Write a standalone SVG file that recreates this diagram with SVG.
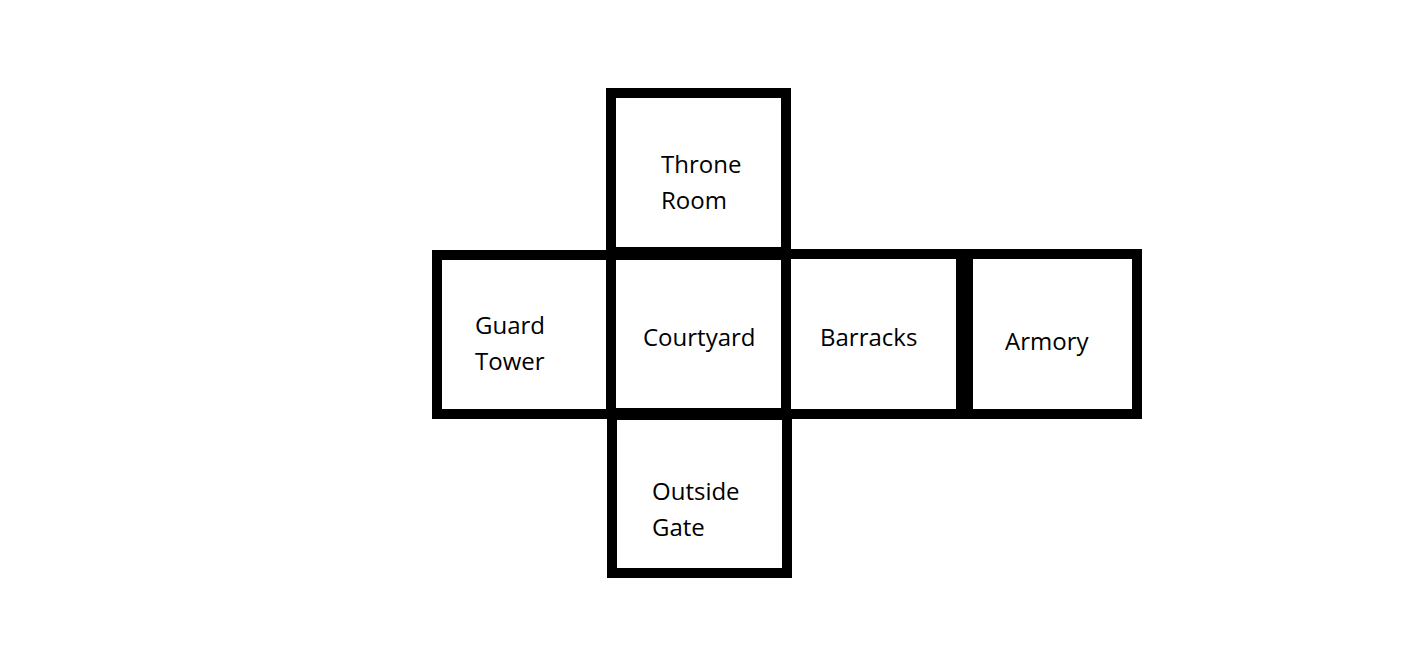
<svg xmlns="http://www.w3.org/2000/svg" width="1416" height="664" viewBox="0 0 1416 664">
<style>
.room{fill:none;stroke:#000;stroke-width:10}
.lbl{font-family:"Open Sans","Noto Sans","Liberation Sans",sans-serif;font-size:24px;fill:#000}
</style>
<rect width="1416" height="664" fill="#fff"/>
<g id="connectors"></g>
<g id="throne-room">
<rect class="room" x="611" y="93" width="175" height="159"/>
<text class="lbl" x="661" y="173">Throne</text>
<text class="lbl" x="661" y="209">Room</text>
</g>
<g id="guard-tower">
<rect class="room" x="437" y="255" width="174" height="159"/>
<text class="lbl" x="475" y="334">Guard</text>
<text class="lbl" x="475" y="370">Tower</text>
</g>
<g id="courtyard">
<rect class="room" x="611" y="255" width="175" height="158"/>
<text class="lbl" x="643" y="346">Courtyard</text>
</g>
<g id="barracks">
<rect class="room" x="786" y="254" width="175" height="160"/>
<text class="lbl" x="820" y="346">Barracks</text>
</g>
<g id="armory">
<rect class="room" x="968" y="254" width="169" height="160"/>
<text class="lbl" x="1005" y="350">Armory</text>
</g>
<g id="outside-gate">
<rect class="room" x="612" y="415" width="175" height="158"/>
<text class="lbl" x="652" y="500">Outside</text>
<text class="lbl" x="652" y="536">Gate</text>
</g>
</svg>
